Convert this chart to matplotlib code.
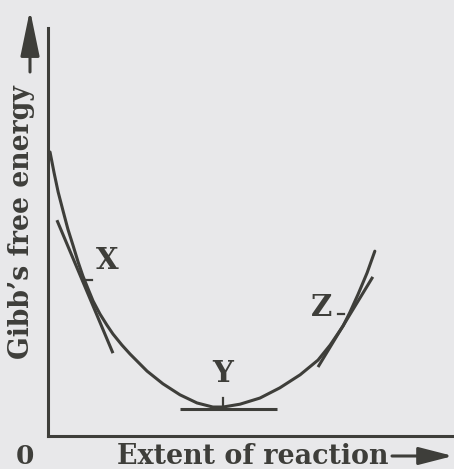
import numpy as np
import matplotlib
matplotlib.use("Agg")
import matplotlib.pyplot as plt

# curve (extent of reaction, G), axis runs 0..10 both ways
curve_x = [0.05, 0.15, 0.25, 0.37, 0.49, 0.62, 0.74, 0.86, 0.99, 1.11, 1.28, 1.45,
           1.60, 1.82, 2.02, 2.44, 2.83, 3.25, 3.67, 4.06, 4.31, 4.73, 5.22, 5.71,
           6.21, 6.65, 6.95, 7.27, 7.44, 7.64, 7.86, 8.05]
curve_y = [6.96, 6.45, 5.98, 5.52, 5.07, 4.66, 4.27, 3.92, 3.60, 3.31, 2.99, 2.72,
           2.50, 2.23, 2.01, 1.59, 1.28, 1.01, 0.81, 0.71, 0.71, 0.78, 0.93, 1.18,
           1.50, 1.86, 2.23, 2.70, 3.04, 3.48, 4.00, 4.53]

# tangent lines at X, Y, Z
tan_x = {"X": [0.22, 1.60], "Y": [3.25, 5.64], "Z": [6.65, 8.00]}
tan_y = {"X": [5.29, 2.03], "Y": [0.66, 0.66], "Z": [1.69, 3.90]}

# small marks at the touching points
mark_x = {"X": [0.86, 1.08], "Y": [4.31, 4.31], "Z": [7.14, 7.29]}
mark_y = {"X": [3.82, 3.82], "Y": [0.93, 0.72], "Z": [2.99, 2.99]}

labels = ["X", "Y", "Z"]
label_x = [1.45, 4.31, 6.75]
label_y = [4.29, 1.52, 3.14]

ink = "#3e3e3a"
paper = "#e8e8ea"
font = "DejaVu Serif"

W, H = 454, 469
fig = plt.figure(figsize=(W / 100, H / 100), dpi=100, facecolor=paper)

# main axes: box from x=48..454 px, y=28..436 px
ax = fig.add_axes([48 / W, 1 - 436 / H, (454 - 48) / W, (436 - 28) / H])
ax.set_xlim(0, 10)
ax.set_ylim(0, 10)
ax.set_facecolor("none")
for s in ["top", "right"]:
    ax.spines[s].set_visible(False)
for s in ["left", "bottom"]:
    ax.spines[s].set_color(ink)
    ax.spines[s].set_linewidth(2.2)
ax.set_xticks([])
ax.set_yticks([])

ax.plot(curve_x, curve_y, color=ink, lw=2.2, solid_capstyle="round",
        solid_joinstyle="round")
for k in labels:
    ax.plot(tan_x[k], tan_y[k], color=ink, lw=2.2, solid_capstyle="butt")
    ax.plot(mark_x[k], mark_y[k], color=ink, lw=1.6)
for lab, lx, ly in zip(labels, label_x, label_y):
    ax.text(lx, ly, lab, ha="center", va="center", fontsize=21,
            fontweight="bold", family=font, color=ink)

# overlay in pixel coordinates for axis titles and arrows
ov = fig.add_axes([0, 0, 1, 1])
ov.set_xlim(0, W)
ov.set_ylim(H, 0)
ov.axis("off")
ov.patch.set_alpha(0)

ov.text(117, 457, "Extent of reaction", ha="left", va="center", fontsize=19.4,
        fontweight="bold", family=font, color=ink)
ov.text(25, 456, "0", ha="center", va="center", fontsize=19,
        fontweight="bold", family=font, color=ink)
ov.text(22, 222, "Gibb\u2019s free energy", ha="center", va="center", rotation=90,
        fontsize=19.2, fontweight="bold", family=font, color=ink)

ov.annotate("", xy=(453, 456), xytext=(392, 456),
            arrowprops=dict(arrowstyle="-|>,head_length=21,head_width=5.4",
                            mutation_scale=1, color=ink, lw=2.2,
                            shrinkA=0, shrinkB=0))
ov.annotate("", xy=(30, 10), xytext=(30, 72),
            arrowprops=dict(arrowstyle="-|>,head_length=28,head_width=5.8",
                            mutation_scale=1, color=ink, lw=2.2,
                            shrinkA=0, shrinkB=0))

fig.savefig("out.png", dpi=100, facecolor=paper)
